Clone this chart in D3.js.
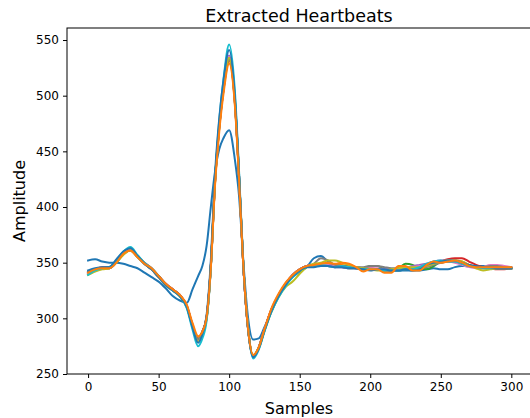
<!DOCTYPE html>
<html>
<head>
<meta charset="utf-8">
<script src="https://cdn.jsdelivr.net/npm/d3@7"></script>
<style>
  body { margin: 0; background: #fff; }
  text { font-family: "DejaVu Sans", sans-serif; fill: #000; }
</style>
</head>
<body>
<div id="vis"></div>
<script>
// sample positions shared by every heartbeat
let samples = [0,5,10,15,20,25,30,35,40,45,50,55,60,65,70,74,78,81,84,87,90,93,96,100,
  104,107,110,113,117,121,125,130,135,140,145,150,155,160,165,170,175,180,185,190,195,
  200,205,210,215,220,225,230,235,240,245,250,255,260,265,270,275,280,285,290,295,300];

// one array per extracted beat (drawn in this order, matplotlib colour cycle)
let beat1 = [352,353,351,350,350,349,347,345,341,337,333,327,320,316,314,326,338,347,365,400,432,452,462,469,
  443,410,352,305,281,282,292,306,320,330,337,342,346,354,356,351,347,347,346,346,345,
  345,344,343,343,343,343,343,343,344,345,344,344,346,347,347,347,347,346,345,345,345];
let beat2 = [342,344,345,346,351,358,361,355,349,344,338,331,326,321,311,294,282,288,301,346,422,471,505,531,
  494,426,348,296,266,274,290,308,321,331,339,344,347,348,349,349,348,348,347,346,345,
  345,344,343,343,344,345,346,346,347,349,350,351,352,351,348,346,346,346,345,345,345];
let beat3 = [340,343,345,345,350,358,362,356,349,344,337,330,325,320,310,293,280,287,300,347,425,474,508,535,
  497,428,348,296,266,273,289,307,320,330,338,343,346,347,348,348,347,346,345,345,345,
  347,347,344,343,345,349,348,345,344,347,351,352,351,349,347,346,346,346,346,345,345];
let beat4 = [342,344,346,346,351,359,362,356,350,345,338,331,326,321,311,294,281,288,301,348,424,473,507,534,
  496,428,348,296,266,274,290,308,321,331,339,344,347,348,348,348,347,347,346,345,344,
  344,344,343,343,344,345,345,345,347,349,351,353,354,354,351,348,346,345,344,344,345];
let beat5 = [341,344,345,345,351,359,362,355,349,344,337,330,325,321,311,294,280,287,300,346,423,473,508,536,
  497,428,348,296,266,274,290,308,321,331,339,344,347,348,348,347,346,346,345,345,344,
  344,344,344,344,344,345,347,348,349,351,352,352,351,349,347,346,346,346,345,345,345];
let beat6 = [341,344,345,346,351,358,362,356,349,344,338,331,326,321,311,294,281,288,301,347,423,472,506,533,
  495,427,348,296,266,274,290,308,321,331,339,344,347,348,349,348,347,347,346,345,344,
  344,344,344,343,343,344,345,346,347,349,350,351,351,350,348,346,345,345,345,345,345];
let beat7 = [340,343,345,345,350,358,362,356,349,344,337,331,326,321,311,294,280,287,300,346,423,473,507,535,
  496,428,348,296,266,274,290,308,321,331,339,344,347,348,348,348,347,346,346,345,345,
  345,345,344,344,344,345,346,347,348,350,351,351,350,348,346,345,346,348,348,347,346];
let beat8 = [342,344,345,345,351,358,361,355,349,345,338,331,326,321,311,294,281,288,301,347,423,472,506,533,
  495,427,348,296,266,274,290,308,321,331,339,344,347,349,354,352,348,347,346,346,346,
  347,347,346,345,345,345,345,345,346,348,350,351,351,349,347,346,346,347,347,346,346];
let beat9 = [339,342,344,345,350,357,361,355,349,344,337,330,325,320,310,293,279,286,299,346,422,472,507,534,
  496,428,349,297,267,274,289,306,319,328,333,340,346,349,350,352,352,350,348,346,345,
  344,343,343,344,345,346,346,346,347,349,351,352,352,351,348,345,343,344,345,345,345];
let beat10 = [339,343,345,346,352,360,364,357,350,345,338,330,325,320,309,290,275,282,298,345,425,478,515,546,
  505,432,350,296,264,272,288,306,319,329,337,343,346,347,348,347,346,347,346,345,344,
  344,344,343,343,343,344,344,346,349,351,352,351,351,349,347,346,345,345,345,345,345];
let beat11 = [343,345,346,346,353,360,363,356,349,344,337,330,325,320,310,292,278,286,303,352,430,480,514,541,
  500,430,348,295,265,273,289,307,320,330,338,343,346,346,347,347,346,346,345,345,344,
  343,344,344,343,343,344,343,344,348,350,351,352,352,350,348,347,346,346,345,345,345];
let beat12 = [341,344,345,345,350,358,361,355,349,345,338,331,326,321,312,296,284,288,301,345,420,468,502,529,
  492,425,348,295,267,274,290,309,322,332,339,344,347,348,349,350,349,350,349,346,342,
  344,344,341,341,347,347,343,343,348,351,350,351,352,350,347,346,346,346,346,346,346];

let beats = [beat1, beat2, beat3, beat4, beat5, beat6, beat7, beat8, beat9, beat10, beat11, beat12];

let xTicks = [0, 50, 100, 150, 200, 250, 300];
let yTicks = [250, 300, 350, 400, 450, 500, 550];
let colors = ['#1f77b4','#ff7f0e','#2ca02c','#d62728','#9467bd','#8c564b','#e377c2','#7f7f7f','#bcbd22','#17becf'];

let W = 530, H = 418;
let margin = { top: 28, left: 67, right: -1, bottom: 44 };

let svg = d3.select('#vis')
  .append('svg')
    .attr('width', W)
    .attr('height', H)
    .style('display', 'block');

let x = d3.scaleLinear()
  .domain([-14.95, 313.95])
  .range([margin.left, W - margin.right]);

let y = d3.scaleLinear()
  .domain([250, 560.8])
  .range([H - margin.bottom, margin.top]);

svg.append('clipPath').attr('id', 'plot')
  .append('rect')
    .attr('x', margin.left)
    .attr('y', margin.top)
    .attr('width', W - margin.right - margin.left)
    .attr('height', H - margin.bottom - margin.top);

let line = d3.line()
  .x((d, i) => x(samples[i]))
  .y(d => y(d))
  .curve(d3.curveMonotoneX);

svg.append('g')
    .attr('clip-path', 'url(#plot)')
  .selectAll('path')
  .data(beats)
  .join('path')
    .attr('d', line)
    .attr('fill', 'none')
    .attr('stroke', (d, i) => colors[i % colors.length])
    .attr('stroke-width', 2)
    .attr('stroke-linejoin', 'round')
    .attr('stroke-linecap', 'square');

// axes
let xAxis = svg.append('g')
  .attr('transform', `translate(0,${H - margin.bottom})`)
  .call(d3.axisBottom(x).tickValues(xTicks).tickSize(4).tickPadding(4));

let yAxis = svg.append('g')
  .attr('transform', `translate(${margin.left},0)`)
  .call(d3.axisLeft(y).tickValues(yTicks).tickSize(4).tickPadding(4));

[xAxis, yAxis].forEach(g => {
  g.select('.domain').remove();
  g.selectAll('line').attr('stroke', '#000').attr('stroke-width', 1);
  g.selectAll('text')
    .style('font-family', '"DejaVu Sans", sans-serif')
    .style('font-size', '12px')
    .attr('fill', '#000');
});

// frame
svg.append('rect')
    .attr('x', margin.left)
    .attr('y', margin.top)
    .attr('width', W - margin.right - margin.left)
    .attr('height', H - margin.bottom - margin.top)
    .attr('fill', 'none')
    .attr('stroke', '#000')
    .attr('stroke-width', 1);

svg.append('text')
    .attr('x', (margin.left + 531) / 2)
    .attr('y', 22)
    .attr('text-anchor', 'middle')
    .style('font-size', '17.5px')
    .text('Extracted Heartbeats');

svg.append('text')
    .attr('x', (margin.left + 531) / 2)
    .attr('y', 414)
    .attr('text-anchor', 'middle')
    .style('font-size', '16px')
    .text('Samples');

svg.append('text')
    .attr('transform', `translate(25,${(margin.top + H - margin.bottom) / 2}) rotate(-90)`)
    .attr('text-anchor', 'middle')
    .style('font-size', '16px')
    .text('Amplitude');
</script>
</body>
</html>
